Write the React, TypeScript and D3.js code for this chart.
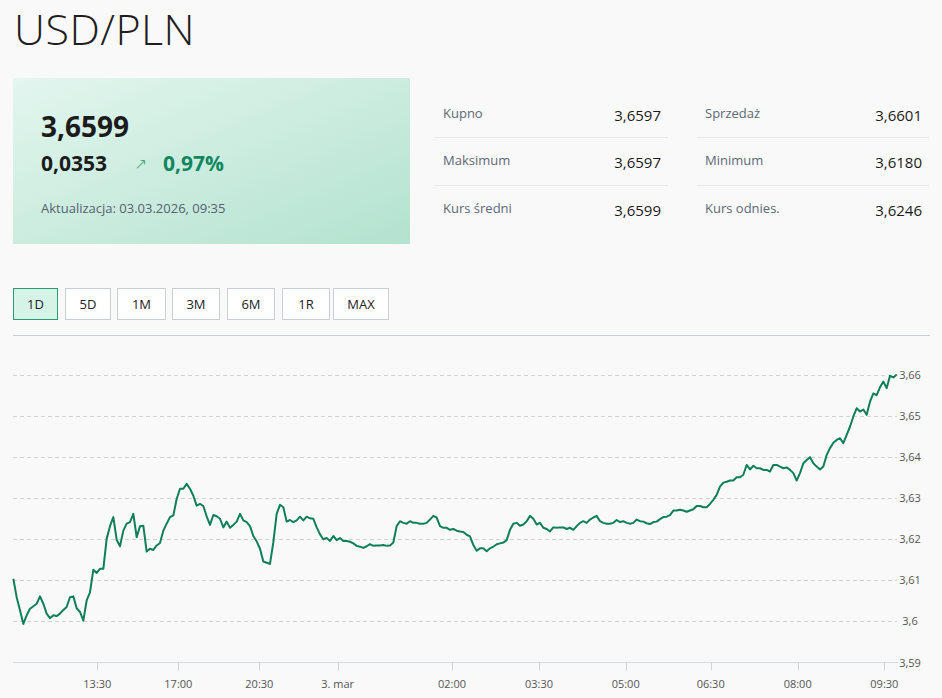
import React from "react";
import * as d3 from "d3";

// ---- data ----
const pairTitle = "USD/PLN";
const lastRate = "3,6599";
const change = "0,0353";
const changePct = "0,97%";
const updated = "Aktualizacja: 03.03.2026, 09:35";

const statLabelsLeft = ["Kupno", "Maksimum", "Kurs średni"];
const statValuesLeft = ["3,6597", "3,6597", "3,6599"];
const statLabelsRight = ["Sprzedaż", "Minimum", "Kurs odnies."];
const statValuesRight = ["3,6601", "3,6180", "3,6246"];

const ranges = ["1D", "5D", "1M", "3M", "6M", "1R", "MAX"];
const activeRange = "1D";

// rate series on an ordinal (point-index) axis
const rates = [
  3.6104, 3.6059, 3.6027, 3.5994, 3.6015, 3.6031, 3.6037, 3.6043, 3.6061, 3.6043,
  3.6019, 3.6008, 3.6015, 3.6013, 3.6019, 3.6028, 3.6035, 3.6059, 3.6061, 3.6032,
  3.6023, 3.6002, 3.6051, 3.6071, 3.6126, 3.6118, 3.6128, 3.6128, 3.6201, 3.6232,
  3.6254, 3.6199, 3.6183, 3.6221, 3.6238, 3.6242, 3.6262, 3.6205, 3.6232, 3.6233,
  3.6170, 3.6177, 3.6174, 3.6185, 3.6191, 3.6221, 3.6238, 3.6254, 3.6258, 3.6298,
  3.6323, 3.6323, 3.6335, 3.6323, 3.6306, 3.6282, 3.6286, 3.6281, 3.6256, 3.6235,
  3.6259, 3.6256, 3.6250, 3.6229, 3.6243, 3.6228, 3.6235, 3.6243, 3.6262, 3.6246,
  3.6242, 3.6232, 3.6208, 3.6195, 3.6177, 3.6146, 3.6143, 3.6140, 3.6193, 3.6262,
  3.6284, 3.6278, 3.6243, 3.6247, 3.6242, 3.6246, 3.6255, 3.6246, 3.6255, 3.6251,
  3.6250, 3.6229, 3.6212,
  3.6200, 3.6203, 3.6196, 3.6208, 3.6198, 3.6203, 3.6196, 3.6196, 3.6194, 3.6190,
  3.6184, 3.6182, 3.6179, 3.6183, 3.6188, 3.6184, 3.6185, 3.6185, 3.6186, 3.6184,
  3.6185, 3.6192, 3.6232, 3.6244, 3.6240, 3.6238, 3.6244, 3.6240, 3.6240, 3.6238,
  3.6238, 3.6240, 3.6248, 3.6257, 3.6253, 3.6232, 3.6228, 3.6228, 3.6223, 3.6225,
  3.6221, 3.6219, 3.6218, 3.6211, 3.6207, 3.6186, 3.6172, 3.6178, 3.6178, 3.6171,
  3.6178, 3.6182, 3.6188, 3.6190, 3.6192, 3.6198, 3.6223, 3.6238, 3.6240, 3.6233,
  3.6236, 3.6244, 3.6257, 3.6250, 3.6236, 3.6240, 3.6228, 3.6225, 3.6219, 3.6229,
  3.6228, 3.6229, 3.6229, 3.6225, 3.6228, 3.6223, 3.6232, 3.6240, 3.6244, 3.6240,
  3.6248, 3.6253, 3.6257, 3.6244, 3.6240, 3.6238, 3.6238, 3.6240, 3.6247, 3.6242,
  3.6244, 3.6240, 3.6238, 3.6240, 3.6248, 3.6244,
  3.6243, 3.6239, 3.6237, 3.6242, 3.6243, 3.6249, 3.6254, 3.6255, 3.6259, 3.6270,
  3.6270, 3.6272, 3.6270, 3.6267, 3.6270, 3.6273, 3.6281, 3.6281, 3.6278, 3.6278,
  3.6286, 3.6296, 3.6308, 3.6328, 3.6338, 3.6340, 3.6343, 3.6343, 3.6351, 3.6351,
  3.6357, 3.6381, 3.6370, 3.6379, 3.6373, 3.6373, 3.6369, 3.6369, 3.6365, 3.6381,
  3.6381, 3.6377, 3.6373, 3.6375, 3.6369, 3.6361, 3.6343, 3.6361, 3.6385, 3.6393,
  3.6400, 3.6385, 3.6377, 3.6370, 3.6377, 3.6405, 3.6422, 3.6435, 3.6442, 3.6446,
  3.6434, 3.6454, 3.6474, 3.6499, 3.6519, 3.6511, 3.6516, 3.6503, 3.6535, 3.6555,
  3.6551, 3.6570, 3.6584, 3.6568, 3.6598, 3.6594, 3.6601,
];

const xTickLabels = ["13:30", "17:00", "20:30", "3. mar", "02:00", "03:30", "05:00", "06:30", "08:00", "09:30"];
const xTickPos = [25.2, 49.5, 73.8, 97.3, 131.6, 157.7, 183.7, 209.2, 235.3, 261.3];

const yTicks = [3.59, 3.6, 3.61, 3.62, 3.63, 3.64, 3.65, 3.66];
const yTickLabels = ["3,59", "3,6", "3,61", "3,62", "3,63", "3,64", "3,65", "3,66"];

// ---- layout ----
const W = 942;
const H = 698;
const FONT = "'Open Sans', 'Noto Sans', sans-serif";
const GREEN = "#0f7f5a";
const buttonWidths = [44, 45, 48, 47, 47, 47, 55];
const buttonGaps = [8, 7, 7, 8, 8, 4];

export default function App() {
  const x = d3.scaleLinear().domain([0, rates.length - 1]).range([13.33, 896.67]);
  const y = d3.scaleLinear().domain([3.59, 3.66]).range([662.5, 375]);
  const line = d3
    .line<number>()
    .x((_, i) => x(i))
    .y((d) => y(d));

  let bx = 13;
  const buttons = ranges.map((r, i) => {
    const b = { label: r, x: bx, w: buttonWidths[i] };
    bx += buttonWidths[i] + (buttonGaps[i] || 0);
    return b;
  });

  const rowLabelY = [117.5, 165, 213];
  const rowValueY = [121, 168, 216];

  return (
    <svg
      width={W}
      height={H}
      style={{ position: "absolute", left: 0, top: 0, display: "block" }}
      fontFamily={FONT}
    >
      <defs>
        <linearGradient id="boxg" x1="0" y1="0" x2="1" y2="1">
          <stop offset="0%" stopColor="#e3f6ef" />
          <stop offset="100%" stopColor="#b3e2cf" />
        </linearGradient>
      </defs>
      <rect x={0} y={0} width={W} height={H} fill="#f9f9f9" />

      {/* title */}
      <text x={14} y={45} fontSize={43} fontWeight={300} letterSpacing={0.5} fill="#1e1e1e">
        {pairTitle}
      </text>

      {/* quote box */}
      <rect x={13} y={78} width={397} height={166} fill="url(#boxg)" />
      <text x={41} y={137} fontSize={28} fontWeight={700} fill="#1b1b1b">
        {lastRate}
      </text>
      <text x={41} y={171} fontSize={21} fontWeight={700} fill="#1b1b1b">
        {change}
      </text>
      <text
        x={141}
        y={169}
        fontSize={15}
        textAnchor="middle"
        fill="#2b9370"
        fontWeight={300}
        fontFamily="'DejaVu Sans', sans-serif"
      >
        ↗
      </text>
      <text x={163} y={171} fontSize={21} fontWeight={700} fill="#12875f">
        {changePct}
      </text>
      <text x={41} y={213} fontSize={13} fill="#56616e">
        {updated}
      </text>

      {/* stats table */}
      {statLabelsLeft.map((l, i) => (
        <g key={"l" + i}>
          <text x={443} y={rowLabelY[i]} fontSize={13} fill="#5d6876">
            {l}
          </text>
          <text x={661} y={rowValueY[i]} fontSize={15} textAnchor="end" fill="#1b1b1b">
            {statValuesLeft[i]}
          </text>
          <text x={705} y={rowLabelY[i]} fontSize={13} fill="#5d6876">
            {statLabelsRight[i]}
          </text>
          <text x={922} y={rowValueY[i]} fontSize={15} textAnchor="end" fill="#1b1b1b">
            {statValuesRight[i]}
          </text>
          {i < 2 && (
            <>
              <line x1={435} x2={668} y1={137.5 + i * 48} y2={137.5 + i * 48} stroke="#e6e8ec" />
              <line x1={697} x2={929} y1={137.5 + i * 48} y2={137.5 + i * 48} stroke="#e6e8ec" />
            </>
          )}
        </g>
      ))}

      {/* range buttons */}
      {buttons.map((b) => {
        const active = b.label === activeRange;
        return (
          <g key={b.label}>
            <rect
              x={b.x + 0.5}
              y={288.5}
              width={b.w}
              height={31}
              fill={active ? "#d6f3e8" : "#ffffff"}
              stroke={active ? "#2a9d76" : "#c8cdd6"}
            />
            <text x={b.x + b.w / 2 + 0.5} y={309} fontSize={13} textAnchor="middle" fill="#222">
              {b.label}
            </text>
          </g>
        );
      })}
      <line x1={13} x2={930} y1={335.5} y2={335.5} stroke="#c9cdd9" />

      {/* grid */}
      {yTicks.map((t, i) => (
        <g key={"y" + i}>
          {i > 0 && (
            <line
              x1={13}
              x2={897}
              y1={Math.round(y(t)) + 0.5}
              y2={Math.round(y(t)) + 0.5}
              stroke="#d2d2d2"
              strokeDasharray="4,3"
            />
          )}
          <text x={910} y={y(t) + 4} fontSize={11} textAnchor="middle" fill="#555">
            {yTickLabels[i]}
          </text>
        </g>
      ))}

      {/* x axis */}
      <line x1={13} x2={898} y1={662.5} y2={662.5} stroke="#d3d9e6" />
      {xTickPos.map((p, i) => (
        <g key={"x" + i}>
          <line x1={Math.round(x(p)) + 0.5} x2={Math.round(x(p)) + 0.5} y1={662} y2={670} stroke="#ccd3e0" />
          <text x={x(p)} y={688} fontSize={11} textAnchor="middle" fill="#555">
            {xTickLabels[i]}
          </text>
        </g>
      ))}

      {/* series */}
      <path d={line(rates) || ""} fill="none" stroke={GREEN} strokeWidth={2} strokeLinejoin="round" />
    </svg>
  );
}
